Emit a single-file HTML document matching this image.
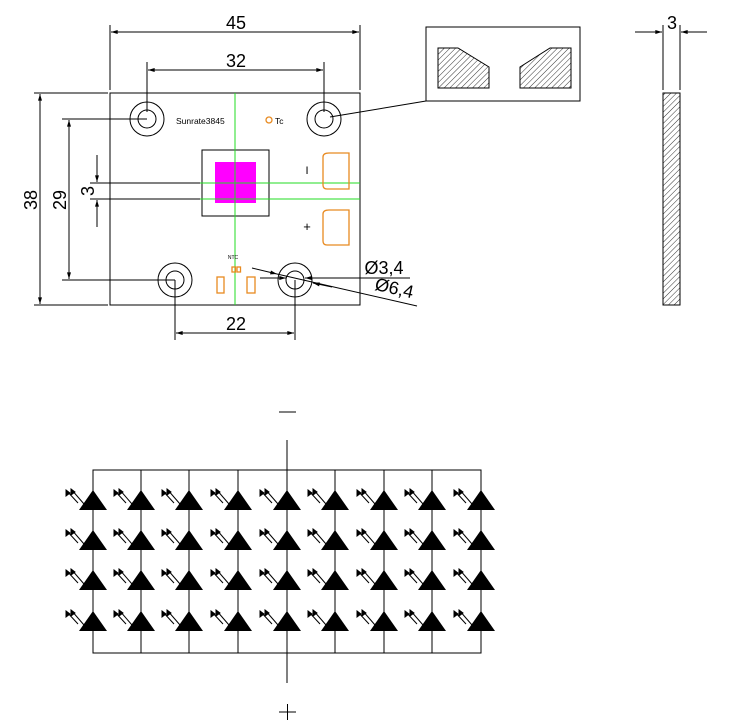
<!DOCTYPE html>
<html><head><meta charset="utf-8"><style>body{margin:0;background:#fff}svg{display:block}text{font-family:"Liberation Sans",sans-serif}</style></head><body>
<svg width="742" height="727" viewBox="0 0 742 727" xmlns="http://www.w3.org/2000/svg">
<defs>
<pattern id="h" width="4" height="4" patternUnits="userSpaceOnUse" patternTransform="rotate(45)"><line x1="0" y1="0" x2="0" y2="4" stroke="#000" stroke-width="0.8"/></pattern>
<marker id="a" viewBox="0 0 10 6" refX="10" refY="3" markerWidth="10" markerHeight="4" orient="auto-start-reverse" markerUnits="userSpaceOnUse"><path d="M0,0L10,3L0,6z" fill="#000"/></marker>
<g id="led"><polygon points="0,-10 -14,10 14,10" fill="#000"/>
<g stroke="#000" stroke-width="1" fill="#000"><line x1="-9" y1="4" x2="-22" y2="-11"/><polygon points="-22,-11 -22,-5 -18,-8"/><line x1="-15" y1="3" x2="-27" y2="-10"/><polygon points="-27,-10 -27,-4 -23,-7"/></g></g>
</defs>
<g stroke="#000" stroke-width="1" fill="none">
<!-- board -->
<rect x="110" y="93" width="250" height="212"/>
<!-- 45 -->
<line x1="110" y1="25" x2="110" y2="90"/><line x1="360" y1="25" x2="360" y2="90"/>
<line x1="111" y1="32" x2="359" y2="32" marker-start="url(#a)" marker-end="url(#a)"/>
<!-- 32 -->
<line x1="147" y1="62" x2="147" y2="112"/><line x1="324" y1="62" x2="324" y2="112"/>
<line x1="148" y1="70" x2="323" y2="70" marker-start="url(#a)" marker-end="url(#a)"/>
<!-- 38 -->
<line x1="34" y1="93" x2="108" y2="93"/><line x1="34" y1="305" x2="108" y2="305"/>
<line x1="40" y1="94" x2="40" y2="304" marker-start="url(#a)" marker-end="url(#a)"/>
<!-- 29 -->
<line x1="62" y1="119" x2="147" y2="119"/><line x1="62" y1="280" x2="175" y2="280"/>
<line x1="69" y1="120" x2="69" y2="279" marker-start="url(#a)" marker-end="url(#a)"/>
<!-- 3 -->
<line x1="90" y1="183" x2="202" y2="183"/><line x1="90" y1="199" x2="202" y2="199"/>
<line x1="97" y1="155" x2="97" y2="182" marker-end="url(#a)"/>
<line x1="97" y1="227" x2="97" y2="200" marker-end="url(#a)"/>
<!-- 22 -->
<line x1="175" y1="280" x2="175" y2="340"/><line x1="295" y1="280" x2="295" y2="340"/>
<line x1="176" y1="333" x2="294" y2="333" marker-start="url(#a)" marker-end="url(#a)"/>
<!-- holes -->
<circle cx="147" cy="119" r="17"/><circle cx="147" cy="119" r="9"/>
<circle cx="324" cy="119" r="17"/><circle cx="324" cy="119" r="9"/>
<circle cx="175" cy="280" r="17"/><circle cx="175" cy="280" r="9"/>
<circle cx="295" cy="280" r="17"/><circle cx="295" cy="280" r="9"/>
<line x1="330" y1="117" x2="426" y2="101"/>
<!-- chip -->
<rect x="202" y="150" width="67" height="66"/>
<!-- diam leaders -->
<line x1="260" y1="278" x2="285" y2="278"/>
<line x1="274" y1="278" x2="286" y2="278" marker-end="url(#a)"/>
<line x1="330" y1="278" x2="305" y2="278" marker-end="url(#a)"/>
<line x1="305" y1="278" x2="410" y2="278"/>
<line x1="252" y1="268" x2="277" y2="274" marker-end="url(#a)"/>
<line x1="332" y1="287" x2="313" y2="283" marker-end="url(#a)"/>
<line x1="277" y1="274" x2="417" y2="306"/>
<!-- inset -->
<rect x="426" y="27" width="154" height="74"/>
<polygon points="438,48 458,48 489,67 489,88 438,88" fill="url(#h)"/>
<polygon points="520,67 550,48 571,48 571,88 520,88" fill="url(#h)"/>
<!-- side -->
<rect x="663" y="93" width="17" height="212" fill="url(#h)"/>
<line x1="663" y1="25" x2="663" y2="90"/><line x1="680" y1="25" x2="680" y2="90"/>
<line x1="635" y1="32" x2="662" y2="32" marker-end="url(#a)"/>
<line x1="707" y1="32" x2="681" y2="32" marker-end="url(#a)"/>
</g>
<rect x="215" y="162" width="41" height="41" fill="#f0f"/>
<g stroke="#22dd22" stroke-width="1"><line x1="235" y1="93" x2="235" y2="305"/><line x1="200" y1="183" x2="360" y2="183"/><line x1="200" y1="199" x2="360" y2="199"/></g>
<g stroke="#e88a20" stroke-width="1.3" fill="none">
<circle cx="269" cy="120" r="3"/>
<path d="M329,153H349V189H327Q323,189 323,185V157Q323,153 329,153Z"/>
<path d="M329,210H349V245H327Q323,245 323,241V214Q323,210 329,210Z"/>
<rect x="232" y="267" width="3.5" height="5"/><rect x="237" y="267" width="3.5" height="5"/>
<rect x="217" y="277" width="7" height="16"/><rect x="247" y="277" width="8" height="16"/>
</g>
<text x="176" y="124" font-size="8.5">Sunrate3845</text>
<text x="275" y="124" font-size="8.5">Tc</text>
<text x="307" y="174" font-size="11" text-anchor="middle">I</text>
<text x="307" y="231" font-size="13" text-anchor="middle">+</text>
<text x="233" y="259" font-size="5" text-anchor="middle">NTC</text>
<g font-size="18" text-anchor="middle">
<text x="236" y="29">45</text><text x="236" y="67">32</text><text x="236" y="330">22</text><text x="672" y="29">3</text>
<text transform="translate(37,200) rotate(-90)">38</text>
<text transform="translate(66,200) rotate(-90)">29</text>
<text transform="translate(94,191) rotate(-90)">3</text>
<text x="384" y="274">Ø3,4</text>
<text transform="translate(393,294) rotate(13)">Ø6,4</text>
</g>
<!-- circuit -->
<g stroke="#000" stroke-width="1" fill="none">
<rect x="93" y="470" width="388" height="183"/>
<line x1="141" y1="470" x2="141" y2="653"/><line x1="189" y1="470" x2="189" y2="653"/><line x1="238" y1="470" x2="238" y2="653"/><line x1="287" y1="440" x2="287" y2="683"/><line x1="335" y1="470" x2="335" y2="653"/><line x1="384" y1="470" x2="384" y2="653"/><line x1="432" y1="470" x2="432" y2="653"/>
</g>
<g>
<use href="#led" x="93" y="500"/><use href="#led" x="93" y="540"/><use href="#led" x="93" y="580"/><use href="#led" x="93" y="621"/>
<use href="#led" x="141" y="500"/><use href="#led" x="141" y="540"/><use href="#led" x="141" y="580"/><use href="#led" x="141" y="621"/>
<use href="#led" x="189" y="500"/><use href="#led" x="189" y="540"/><use href="#led" x="189" y="580"/><use href="#led" x="189" y="621"/>
<use href="#led" x="238" y="500"/><use href="#led" x="238" y="540"/><use href="#led" x="238" y="580"/><use href="#led" x="238" y="621"/>
<use href="#led" x="287" y="500"/><use href="#led" x="287" y="540"/><use href="#led" x="287" y="580"/><use href="#led" x="287" y="621"/>
<use href="#led" x="335" y="500"/><use href="#led" x="335" y="540"/><use href="#led" x="335" y="580"/><use href="#led" x="335" y="621"/>
<use href="#led" x="384" y="500"/><use href="#led" x="384" y="540"/><use href="#led" x="384" y="580"/><use href="#led" x="384" y="621"/>
<use href="#led" x="432" y="500"/><use href="#led" x="432" y="540"/><use href="#led" x="432" y="580"/><use href="#led" x="432" y="621"/>
<use href="#led" x="481" y="500"/><use href="#led" x="481" y="540"/><use href="#led" x="481" y="580"/><use href="#led" x="481" y="621"/>
</g>
<line x1="279" y1="412" x2="296" y2="412" stroke="#000"/>
<g stroke="#000"><line x1="279" y1="712" x2="296" y2="712"/><line x1="287.5" y1="704" x2="287.5" y2="720"/></g>
</svg>
</body></html>
